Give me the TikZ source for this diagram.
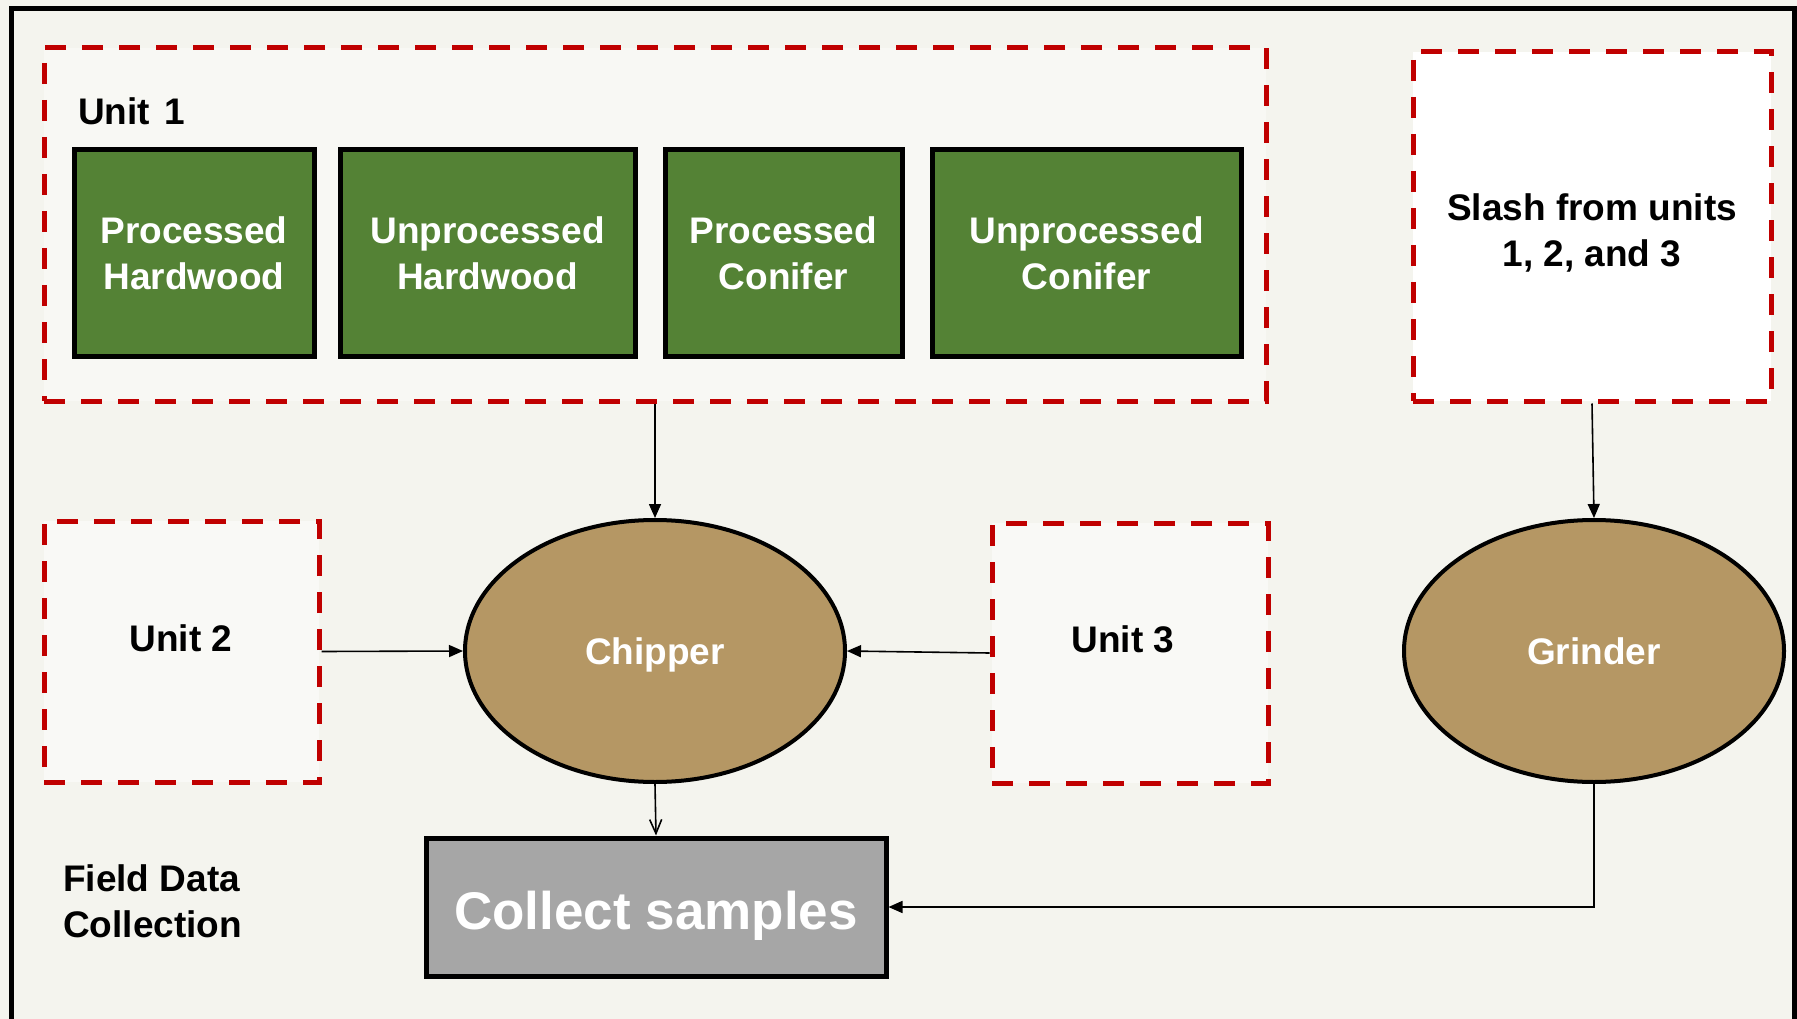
\documentclass[tikz,border=0pt]{standalone}
\usepackage{fontspec}
\setmainfont{Liberation Sans}
\usetikzlibrary{shapes.geometric,arrows.meta}
\definecolor{bgcol}{HTML}{F4F4EE}
\definecolor{dashred}{HTML}{C00000}
\definecolor{woodgreen}{HTML}{548235}
\definecolor{machinetan}{HTML}{B59764}
\definecolor{samplegray}{HTML}{A6A6A6}
\begin{document}
\begin{tikzpicture}[x=1pt,y=-1pt,
  txt/.style={font=\fontsize{37}{46}\selectfont\bfseries, align=center},
  unitbox/.style={rectangle, draw=dashred, line width=5pt, dash pattern=on 21pt off 16pt, inner sep=0pt},
  woodbox/.style={rectangle, draw=black, line width=5pt, fill=woodgreen, text=white, txt, minimum height=207pt, inner sep=0pt},
  machine/.style={ellipse, draw=black, line width=4pt, fill=machinetan, text=white, txt, text depth=0pt, minimum width=380pt, minimum height=262pt, inner sep=0pt},
  conn/.style={line width=1.6pt, -{Triangle[length=14pt,width=12pt]}},
  openconn/.style={line width=1.6pt, -{Straight Barb[length=14pt,width=12pt,line width=1.6pt]}},
]
\path[use as bounding box] (0,0) rectangle (1797,1019);
\clip (0,0) rectangle (1797,1019);
\fill[bgcol] (0,0) rectangle (1797,1019);
% outer frame
\draw[line width=5pt] (11,1040) -- (11,9) -- (1794,9) -- (1794,1040);

% Unit 1 group
\node[unitbox, fill=white, fill opacity=0.4, draw opacity=1, minimum width=1222pt, minimum height=353pt] (unit1) at (655,224.5) {};
\node[txt, anchor=west, inner sep=0pt] (unit1lab) at (78,111) {Unit\hspace{4pt} 1};
\node[woodbox, minimum width=240pt] (phw) at (194,253) {Processed\\Hardwood};
\node[woodbox, minimum width=295pt] (uhw) at (487.5,253) {Unprocessed\\Hardwood};
\node[woodbox, minimum width=237pt] (pcf) at (783.5,253) {Processed\\Conifer};
\node[woodbox, minimum width=309pt] (ucf) at (1086.5,253) {Unprocessed\\Conifer};

% Slash box
\node[unitbox, fill=white, minimum width=358pt, minimum height=349pt] (slash) at (1592,226.5) {};
\node[txt] (slashlab) at (1592,233) {Slash from units\\1, 2, and 3};

% Unit 2 and Unit 3
\node[unitbox, fill=white, fill opacity=0.5, draw opacity=1, minimum width=275pt, minimum height=261pt] (unit2) at (181.5,651.5) {};
\node[txt] (unit2lab) at (181,638) {Unit 2};
\node[unitbox, fill=white, fill opacity=0.5, draw opacity=1, minimum width=276pt, minimum height=260pt] (unit3) at (1130,653) {};
\node[txt] (unit3lab) at (1123,639) {Unit 3};

% machines
\node[machine] (chipper) at (655,651) {Chipper};
\node[machine] (grinder) at (1594,651) {Grinder};

% collect samples
\node[rectangle, draw=black, line width=5pt, fill=samplegray, text=white, font=\fontsize{53}{60}\selectfont\bfseries, text depth=0pt, text height=45pt, minimum width=460pt, minimum height=138pt, inner sep=0pt] (collect) at (656,907) {Collect samples};

% field data label
\node[txt, anchor=west, align=left, inner sep=0pt] (field) at (63,901) {Field Data\\Collection};

% connectors
\draw[conn] (unit1.south) -- (chipper.north);
\draw[conn] (unit2.east) -- (chipper.west);
\draw[conn] (unit3.west) -- (chipper.east);
\draw[openconn] (chipper.south) -- (collect.north);
\draw[conn] (slash.south) -- (grinder.north);
\draw[conn] (grinder.south) |- (collect.east);
\end{tikzpicture}
\end{document}
